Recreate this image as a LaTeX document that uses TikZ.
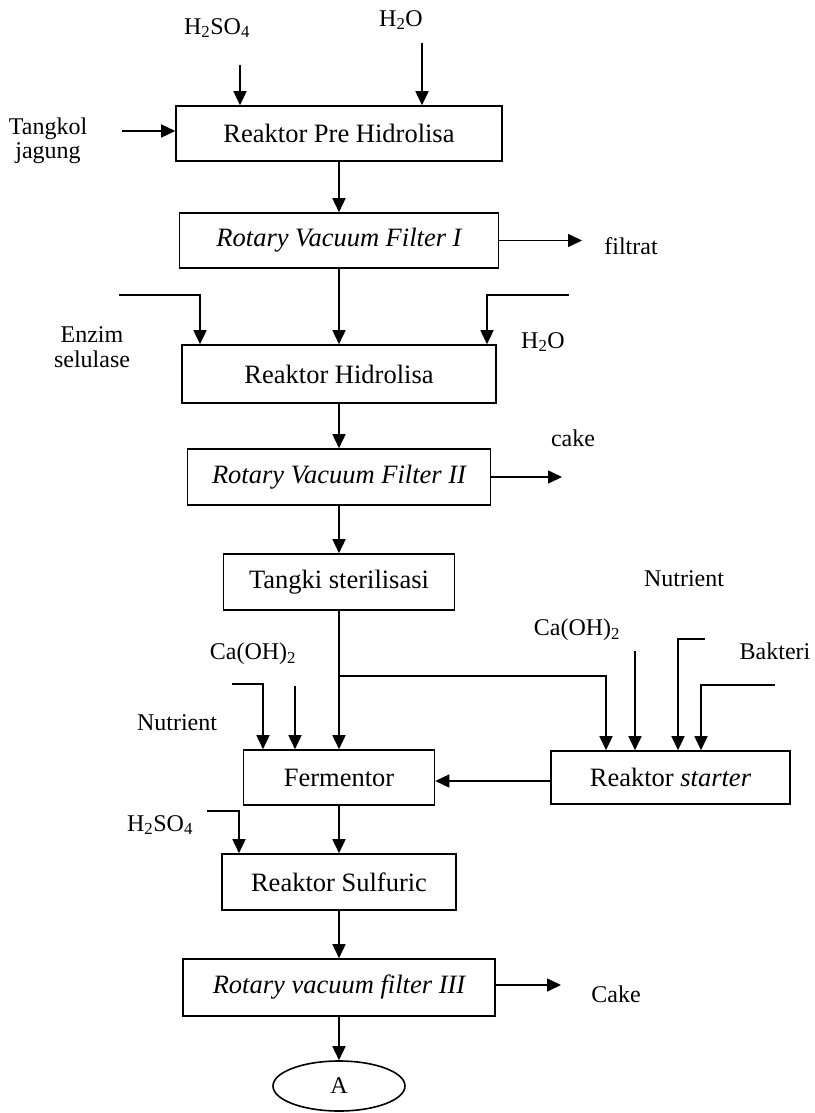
\documentclass[tikz,border=0pt]{standalone}
\usepackage{fontspec}
\setmainfont{Liberation Serif}
\usetikzlibrary{arrows.meta,shapes.geometric}
\begin{document}
\begin{tikzpicture}[x=1pt,y=-1pt,
  line width=1.6pt,
  box/.style={draw,rectangle,inner sep=0pt,font=\fontsize{26.5}{30}\selectfont},
  lbl/.style={inner sep=0pt,font=\fontsize{24}{28}\selectfont,align=center},
  arr/.style={-{Triangle[length=14pt,width=13pt]}}]
\useasboundingbox (0,0) rectangle (814,1113);
% main boxes
\node[box,minimum width=326pt,minimum height=55pt] (b1) at (339,133.5) {Reaktor Pre Hidrolisa};
\node[box,minimum width=319pt,minimum height=55pt] (b2) at (339,240.5) {\itshape Rotary Vacuum Filter I};
\node[box,minimum width=314pt,minimum height=58pt] (b3) at (339,374) {Reaktor Hidrolisa};
\node[box,minimum width=303pt,minimum height=56pt] (b4) at (339,477) {\itshape Rotary Vacuum Filter II};
\node[box,minimum width=231pt,minimum height=56pt] (b5) at (339,582) {Tangki sterilisasi};
\node[box,minimum width=191pt,minimum height=55pt] (b6) at (339,777.5) {Fermentor};
\node[box,minimum width=239pt,minimum height=53pt] (b7) at (670.5,777.5) {Reaktor \textit{starter}};
\node[box,minimum width=234pt,minimum height=56pt] (b8) at (339,882) {Reaktor Sulfuric};
\node[box,minimum width=312pt,minimum height=57pt] (b9) at (339,987.5) {\itshape Rotary vacuum filter III};
\node[draw,ellipse,minimum width=132pt,minimum height=50pt,inner sep=0pt,font=\fontsize{24}{28}\selectfont] (A) at (339,1086) {A};
% labels
\node[lbl] (lh2so4a) at (217,28) {H\textsubscript{2}SO\textsubscript{4}};
\node[lbl] (lh2oa) at (401,20) {H\textsubscript{2}O};
\node[lbl] (ltang) at (48,141) {Tangkol\\[-4pt]jagung};
\node[lbl] (lfilt) at (631,246) {filtrat};
\node[lbl] (lenz) at (92,347) {Enzim\\[-3pt]selulase};
\node[lbl] (lh2ob) at (543,342) {H\textsubscript{2}O};
\node[lbl] (lcake) at (573,438) {cake};
\node[lbl] (lnutr) at (684,579) {Nutrient};
\node[lbl] (lcaohr) at (577,630) {Ca(OH)\textsubscript{2}};
\node[lbl] (lbakt) at (775,651) {Bakteri};
\node[lbl] (lcaohl) at (253,654) {Ca(OH)\textsubscript{2}};
\node[lbl] (lnutl) at (177,723) {Nutrient};
\node[lbl] (lh2so4b) at (160,825) {H\textsubscript{2}SO\textsubscript{4}};
\node[lbl] (lcake2) at (616,994) {Cake};
% feed start coordinates
\coordinate (s1) at (240,65);
\coordinate (s2) at (422,43);
\coordinate (s3) at (122,131);
\coordinate (e1) at (582,240);
\coordinate (s4) at (119,295);
\coordinate (s5) at (569,295);
\coordinate (e2) at (562,477);
\coordinate (j) at (339,676);
\coordinate (s6) at (232,684);
\coordinate (s7) at (295,686);
\coordinate (s8) at (635,651);
\coordinate (s9) at (705,639);
\coordinate (s10) at (775,685);
\coordinate (s11) at (207,811);
\coordinate (e3) at (561,985);
% connectors
\draw[arr] (s1) -- (s1 |- b1.north);
\draw[arr] (s2) -- (s2 |- b1.north);
\draw[arr] (s3) -- (s3 -| b1.west);
\draw[arr] (b1) -- (b2);
\draw[arr] (b2.east) -- (e1 |- b2.east);
\draw[arr] (b2) -- (b3);
\draw[arr] (s4) -| ([xshift=-139pt]b3.north);
\draw[arr] (s5) -| ([xshift=148pt]b3.north);
\draw[arr] (b3) -- (b4);
\draw[arr] (b4.east) -- (e2);
\draw[arr] (b4) -- (b5);
\draw[arr] (b5) -- (b6);
\draw[arr] (j) -| ([xshift=-64.5pt]b7.north);
\draw[arr] (s6) -| ([xshift=-76pt]b6.north);
\draw[arr] (s7) -- (s7 |- b6.north);
\draw[arr] (s8) -- (s8 |- b7.north);
\draw[arr] (s9) -| ([xshift=7.5pt]b7.north);
\draw[arr] (s10) -| ([xshift=30.5pt]b7.north);
\draw[arr] ([yshift=-3.5pt]b7.west) -- ([yshift=-3.5pt]b6.east);
\draw[arr] (b6) -- (b8);
\draw[arr] (s11) -| ([xshift=-100pt]b8.north);
\draw[arr] (b8) -- (b9);
\draw[arr] (b9.east |- e3) -- (e3);
\draw[arr] (b9) -- (A);
\end{tikzpicture}
\end{document}
